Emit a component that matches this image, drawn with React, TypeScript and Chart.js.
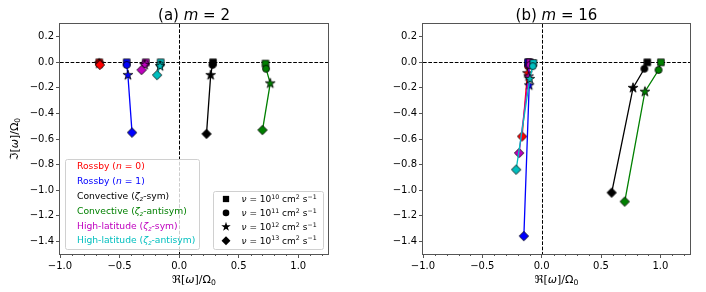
import React, { useEffect, useRef } from 'react';
import { Chart, registerables } from 'chart.js';
Chart.register(...registerables);

const FONT = '"DejaVu Sans", sans-serif';

// ---- data: panel (a) m = 2 ----
const a_rossby0_re = [-0.67, -0.67, -0.67, -0.665];
const a_rossby0_im = [0.0, -0.005, -0.01, -0.02];
const a_rossby1_re = [-0.44, -0.44, -0.43, -0.395];
const a_rossby1_im = [0.0, -0.02, -0.1, -0.55];
const a_convSym_re = [0.285, 0.28, 0.265, 0.23];
const a_convSym_im = [0.0, -0.02, -0.1, -0.56];
const a_convAnti_re = [0.725, 0.73, 0.765, 0.7];
const a_convAnti_im = [-0.01, -0.05, -0.165, -0.53];
const a_hlSym_re = [-0.28, -0.285, -0.29, -0.315];
const a_hlSym_im = [0.0, -0.01, -0.02, -0.06];
const a_hlAnti_re = [-0.155, -0.16, -0.16, -0.185];
const a_hlAnti_im = [0.0, -0.02, -0.03, -0.1];

// ---- data: panel (b) m = 16 ----
const b_rossby0_re = [-0.11, -0.115, -0.12, -0.165];
const b_rossby0_im = [0.0, -0.03, -0.085, -0.58];
const b_rossby1_re = [-0.115, -0.11, -0.105, -0.15];
const b_rossby1_im = [0.0, -0.02, -0.18, -1.36];
const b_convSym_re = [0.89, 0.865, 0.77, 0.59];
const b_convSym_im = [0.0, -0.05, -0.2, -1.02];
const b_convAnti_re = [1.005, 0.985, 0.87, 0.7];
const b_convAnti_im = [0.0, -0.06, -0.23, -1.09];
const b_hlSym_re = [-0.1, -0.1, -0.11, -0.19];
const b_hlSym_im = [0.0, -0.02, -0.11, -0.71];
const b_hlAnti_re = [-0.07, -0.075, -0.1, -0.215];
const b_hlAnti_im = [-0.005, -0.03, -0.13, -0.84];

const seriesColors = ['#ff0000', '#0000ff', '#000000', '#008000', '#bf00bf', '#00bfbf'];
const markerShapes = ['square', 'circle', 'star', 'diamond'];
const xTicks = [-1.0, -0.5, 0.0, 0.5, 1.0];
const yTicks = [0.2, 0.0, -0.2, -0.4, -0.6, -0.8, -1.0, -1.2, -1.4];
const xMinor = [-0.9, -0.8, -0.7, -0.6, -0.4, -0.3, -0.2, -0.1, 0.1, 0.2, 0.3, 0.4, 0.6, 0.7, 0.8, 0.9, 1.1, 1.2];

type Seg = { t: string; it?: boolean; sub?: boolean; sup?: boolean };

const legendLabels: Seg[][] = [
  [{ t: 'Rossby (' }, { t: 'n', it: true }, { t: ' = 0)' }],
  [{ t: 'Rossby (' }, { t: 'n', it: true }, { t: ' = 1)' }],
  [{ t: 'Convective (' }, { t: 'ζ', it: true }, { t: 'z', it: true, sub: true }, { t: '-sym)' }],
  [{ t: 'Convective (' }, { t: 'ζ', it: true }, { t: 'z', it: true, sub: true }, { t: '-antisym)' }],
  [{ t: 'High-latitude (' }, { t: 'ζ', it: true }, { t: 'z', it: true, sub: true }, { t: '-sym)' }],
  [{ t: 'High-latitude (' }, { t: 'ζ', it: true }, { t: 'z', it: true, sub: true }, { t: '-antisym)' }],
];
const viscExps = ['10', '11', '12', '13'];

function segFont(s: Seg, size: number) {
  const sz = s.sub || s.sup ? size * 0.7 : size;
  return `${s.it ? 'italic ' : ''}${sz}px ${FONT}`;
}
function richWidth(ctx: CanvasRenderingContext2D, segs: Seg[], size: number) {
  let w = 0;
  for (const s of segs) {
    ctx.font = segFont(s, size);
    w += ctx.measureText(s.t).width;
  }
  return w;
}
function drawRich(ctx: CanvasRenderingContext2D, segs: Seg[], x: number, y: number, size: number, color: string, align = 'left') {
  let cx = x;
  if (align === 'center') cx = x - richWidth(ctx, segs, size) / 2;
  ctx.fillStyle = color;
  ctx.textBaseline = 'alphabetic';
  ctx.textAlign = 'left';
  for (const s of segs) {
    ctx.font = segFont(s, size);
    const dy = s.sub ? size * 0.22 : s.sup ? -size * 0.4 : 0;
    ctx.fillText(s.t, cx, y + dy);
    cx += ctx.measureText(s.t).width;
  }
}

function shapePath(g: CanvasRenderingContext2D, shape: string, cx: number, cy: number, k = 1) {
  g.beginPath();
  if (shape === 'square') {
    const h = 3.3 * k;
    g.rect(cx - h, cy - h, 2 * h, 2 * h);
  } else if (shape === 'circle') {
    g.arc(cx, cy, 3.5 * k, 0, Math.PI * 2);
  } else if (shape === 'star') {
    const ro = 5.2 * k, ri = ro * 0.382;
    for (let i = 0; i < 10; i++) {
      const r = i % 2 === 0 ? ro : ri;
      const a = -Math.PI / 2 + (i * Math.PI) / 5;
      const px = cx + r * Math.cos(a), py = cy + r * Math.sin(a);
      if (i === 0) g.moveTo(px, py); else g.lineTo(px, py);
    }
    g.closePath();
  } else {
    const h = 4.7 * k;
    g.moveTo(cx, cy - h);
    g.lineTo(cx + h, cy);
    g.lineTo(cx, cy + h);
    g.lineTo(cx - h, cy);
    g.closePath();
  }
}

function makeMarker(shape: string, fill: string): HTMLCanvasElement {
  const c = document.createElement('canvas');
  c.width = 14;
  c.height = 14;
  const g = c.getContext('2d')!;
  shapePath(g, shape, 7, 7);
  g.fillStyle = fill;
  g.fill();
  g.strokeStyle = '#000';
  g.lineWidth = 0.8;
  g.stroke();
  return c;
}

function fmtTick(v: number) {
  const s = Math.abs(v).toFixed(1);
  return v < -1e-9 ? '\u2212' + s : s;
}

type PanelCfg = {
  title: Seg[];
  res: number[][];
  ims: number[][];
  yAxisWidth: number;
  padRight: number;
  showYLabel: boolean;
  showLegends: boolean;
};

function makeChart(canvas: HTMLCanvasElement, cfg: PanelCfg) {
  const datasets = cfg.res.map((re, si) => {
    const color = seriesColors[si];
    return {
      data: re.map((x, i) => ({ x, y: cfg.ims[si][i] })),
      showLine: true,
      borderColor: color,
      backgroundColor: color,
      borderWidth: 1.3,
      pointStyle: markerShapes.map((s) => makeMarker(s, color)),
      pointRadius: 5,
      order: 10 - si,
    };
  });

  const framePlugin = {
    id: 'frame',
    beforeDatasetsDraw(chart: any) {
      const { ctx, chartArea: ca, scales } = chart;
      const x0 = Math.round(scales.x.getPixelForValue(0)) + 0.5;
      const y0 = Math.round(scales.y.getPixelForValue(0)) + 0.5;
      ctx.save();
      ctx.strokeStyle = '#000';
      ctx.lineWidth = 1;
      ctx.setLineDash([3.7, 1.6]);
      ctx.beginPath();
      ctx.moveTo(ca.left, y0);
      ctx.lineTo(ca.right, y0);
      ctx.moveTo(x0, ca.top);
      ctx.lineTo(x0, ca.bottom);
      ctx.stroke();
      ctx.restore();
    },
    afterDraw(chart: any) {
      const { ctx, chartArea: ca, scales } = chart;
      ctx.save();
      // frame
      ctx.strokeStyle = '#555';
      ctx.lineWidth = 1;
      ctx.strokeRect(ca.left - 0.5, ca.top - 0.5, ca.right - ca.left + 1, ca.bottom - ca.top + 1);
      // minor ticks
      ctx.beginPath();
      for (const v of xMinor) {
        const px = Math.round(scales.x.getPixelForValue(v)) + 0.5;
        ctx.moveTo(px, ca.bottom);
        ctx.lineTo(px, ca.bottom + 2);
      }
      ctx.stroke();
      const cxm = (ca.left + ca.right) / 2;
      // title
      drawRich(ctx, cfg.title, cxm, 19.5, 15, '#000', 'center');
      // x label
      drawRich(ctx, [{ t: 'ℜ' }, { t: '[' }, { t: 'ω', it: true }, { t: ']/Ω' }, { t: '0', sub: true }], cxm, 283, 11, '#000', 'center');
      if (cfg.showYLabel) {
        ctx.save();
        ctx.translate(18, (ca.top + ca.bottom) / 2);
        ctx.rotate(-Math.PI / 2);
        drawRich(ctx, [{ t: 'ℑ' }, { t: '[' }, { t: 'ω', it: true }, { t: ']/Ω' }, { t: '0', sub: true }], 0, 0, 11, '#000', 'center');
        ctx.restore();
      }
      if (cfg.showLegends) {
        // legend 1
        ctx.fillStyle = 'rgba(255,255,255,0.8)';
        ctx.strokeStyle = '#d0d0d0';
        ctx.lineWidth = 1;
        ctx.beginPath();
        ctx.roundRect(65.5, 159.5, 134, 90, 2);
        ctx.fill();
        ctx.stroke();
        legendLabels.forEach((segs, i) => {
          const cy = 166 + i * 14.8;
          drawRich(ctx, segs, 77, cy + 3.3, 9.2, seriesColors[i]);
        });
        // legend 2
        ctx.fillStyle = 'rgba(255,255,255,0.8)';
        ctx.strokeStyle = '#d0d0d0';
        ctx.beginPath();
        ctx.roundRect(213.5, 191.5, 110, 58, 2);
        ctx.fill();
        ctx.stroke();
        viscExps.forEach((e, i) => {
          const cy = 199 + i * 13.9;
          shapePath(ctx, markerShapes[i], 226, cy, 0.95);
          ctx.fillStyle = '#000';
          ctx.fill();
          drawRich(
            ctx,
            [{ t: 'ν', it: true }, { t: ' = 10' }, { t: e, sup: true }, { t: ' cm' }, { t: '2', sup: true }, { t: ' s' }, { t: '\u22121', sup: true }],
            241.5,
            cy + 3.3,
            9,
            '#000'
          );
        });
      }
      ctx.restore();
    },
  };

  const tickFont = { family: FONT, size: 10 };
  return new Chart(canvas, {
    type: 'scatter',
    data: { datasets } as any,
    plugins: [framePlugin],
    options: {
      animation: false,
      responsive: false,
      devicePixelRatio: 1,
      events: [],
      layout: { padding: { left: 0, right: cfg.padRight, top: 24, bottom: 0 } },
      plugins: { legend: { display: false }, tooltip: { enabled: false }, title: { display: false } },
      scales: {
        x: {
          type: 'linear',
          min: -1.0,
          max: 1.25,
          afterBuildTicks: (s: any) => {
            s.ticks = xTicks.map((v) => ({ value: v }));
          },
          afterFit: (s: any) => {
            s.height = 38;
          },
          ticks: { font: tickFont, color: '#000', padding: 2, maxRotation: 0, callback: (v: any) => fmtTick(Number(v)) },
          grid: { drawOnChartArea: false, drawTicks: true, tickLength: 4, color: '#555' },
          border: { display: false },
        },
        y: {
          type: 'linear',
          min: -1.5,
          max: 0.3,
          afterBuildTicks: (s: any) => {
            s.ticks = yTicks.map((v) => ({ value: v }));
          },
          afterFit: (s: any) => {
            s.width = cfg.yAxisWidth;
          },
          ticks: { font: tickFont, color: '#000', padding: 2, callback: (v: any) => fmtTick(Number(v)) },
          grid: { drawOnChartArea: false, drawTicks: true, tickLength: 4, color: '#555' },
          border: { display: false },
        },
      },
    } as any,
  });
}

export default function App() {
  const ref1 = useRef<HTMLCanvasElement>(null);
  const ref2 = useRef<HTMLCanvasElement>(null);
  useEffect(() => {
    const c1 = makeChart(ref1.current!, {
      title: [{ t: '(a) ' }, { t: 'm', it: true }, { t: ' = 2' }],
      res: [a_rossby0_re, a_rossby1_re, a_convSym_re, a_convAnti_re, a_hlSym_re, a_hlAnti_re],
      ims: [a_rossby0_im, a_rossby1_im, a_convSym_im, a_convAnti_im, a_hlSym_im, a_hlAnti_im],
      yAxisWidth: 60,
      padRight: 25,
      showYLabel: true,
      showLegends: true,
    });
    const c2 = makeChart(ref2.current!, {
      title: [{ t: '(b) ' }, { t: 'm', it: true }, { t: ' = 16' }],
      res: [b_rossby0_re, b_rossby1_re, b_convSym_re, b_convAnti_re, b_hlSym_re, b_hlAnti_re],
      ims: [b_rossby0_im, b_rossby1_im, b_convSym_im, b_convAnti_im, b_hlSym_im, b_hlAnti_im],
      yAxisWidth: 70,
      padRight: 16,
      showYLabel: false,
      showLegends: false,
    });
    return () => {
      c1.destroy();
      c2.destroy();
    };
  }, []);
  return (
    <div style={{ position: 'fixed', left: 0, top: 0, width: 706, height: 292, background: '#fff' }}>
      <canvas ref={ref1} width={353} height={292} style={{ position: 'absolute', left: 0, top: 0, width: 353, height: 292 }} />
      <canvas ref={ref2} width={353} height={292} style={{ position: 'absolute', left: 353, top: 0, width: 353, height: 292 }} />
    </div>
  );
}
